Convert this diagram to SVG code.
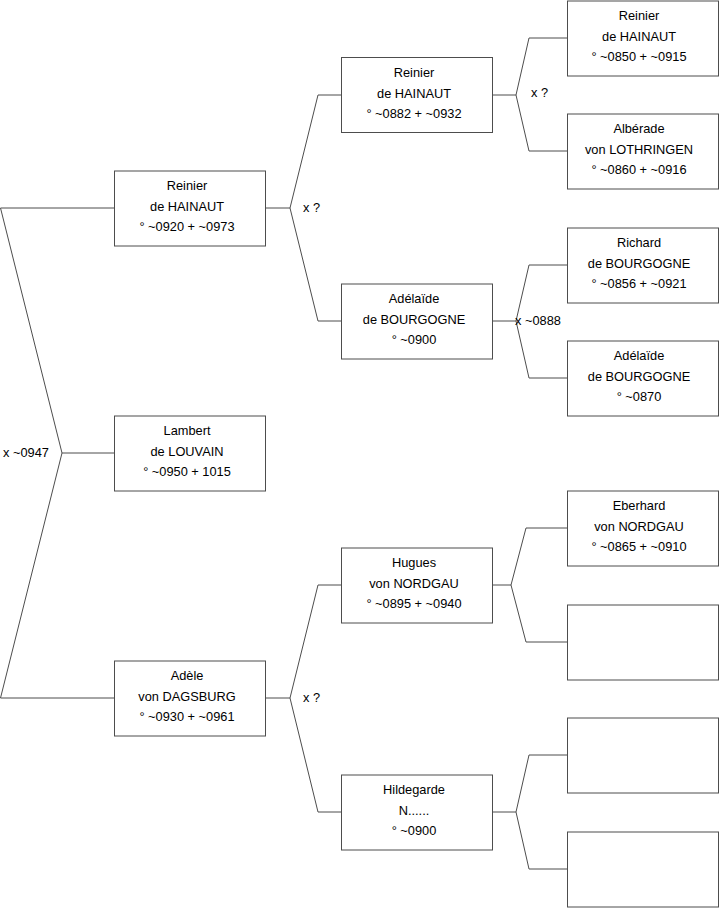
<svg xmlns="http://www.w3.org/2000/svg" width="719" height="908" viewBox="0 0 719 908">
<style>
.b{fill:#fff;stroke:#4d4d4d;stroke-width:1}
.c{fill:none;stroke:#4d4d4d;stroke-width:1}
text{font-family:"Liberation Sans",Arial,sans-serif;font-size:12.8px;fill:#000}
.m{text-anchor:middle}
</style>
<rect width="719" height="908" fill="#fff"/>
<g id="connectors">
<polyline class="c" points="114,208 0.5,208 62,453 0.5,698 114,698"/>
<line class="c" x1="62" y1="453" x2="114" y2="453"/>
<polyline class="c" points="341,95 318,95 290,208 318,321 341,321"/>
<line class="c" x1="265" y1="208" x2="290" y2="208"/>
<polyline class="c" points="341,585 318,585 290,698 318,812 341,812"/>
<line class="c" x1="265" y1="698" x2="290" y2="698"/>
<polyline class="c" points="567,38 529,38 516,95 529,151 567,151"/>
<line class="c" x1="492" y1="95" x2="516" y2="95"/>
<polyline class="c" points="567,265 529,265 516,321 529,378 567,378"/>
<line class="c" x1="492" y1="321" x2="516" y2="321"/>
<polyline class="c" points="567,528 526,528 511,585 526,642 567,642"/>
<line class="c" x1="492" y1="585" x2="511" y2="585"/>
<polyline class="c" points="567,755 529,755 516,812 529,869 567,869"/>
<line class="c" x1="492" y1="812" x2="516" y2="812"/>
<text x="3" y="457">x ~0947</text>
<text x="303" y="212">x ?</text>
<text x="303" y="702">x ?</text>
<text x="531" y="97">x ?</text>
<text x="515" y="325">x ~0888</text>
</g>
<g id="n1"><rect class="b" x="114.5" y="171" width="151" height="75"/><text class="m" x="187" y="190">Reinier</text><text class="m" x="187" y="211">de HAINAUT</text><text class="m" x="187" y="231">° ~0920 + ~0973</text></g>
<g id="n2"><rect class="b" x="114.5" y="416" width="151" height="75"/><text class="m" x="187" y="435">Lambert</text><text class="m" x="187" y="456">de LOUVAIN</text><text class="m" x="187" y="476">° ~0950 + 1015</text></g>
<g id="n3"><rect class="b" x="114.5" y="661" width="151" height="75"/><text class="m" x="187" y="680">Adèle</text><text class="m" x="187" y="701">von DAGSBURG</text><text class="m" x="187" y="721">° ~0930 + ~0961</text></g>
<g id="n4"><rect class="b" x="341.5" y="57.5" width="151" height="75"/><text class="m" x="414" y="77">Reinier</text><text class="m" x="414" y="98">de HAINAUT</text><text class="m" x="414" y="118">° ~0882 + ~0932</text></g>
<g id="n5"><rect class="b" x="341.5" y="284" width="151" height="75"/><text class="m" x="414" y="303">Adélaïde</text><text class="m" x="414" y="324">de BOURGOGNE</text><text class="m" x="414" y="344">° ~0900</text></g>
<g id="n6"><rect class="b" x="341.5" y="548" width="151" height="75"/><text class="m" x="414" y="567">Hugues</text><text class="m" x="414" y="588">von NORDGAU</text><text class="m" x="414" y="608">° ~0895 + ~0940</text></g>
<g id="n7"><rect class="b" x="341.5" y="775" width="151" height="75"/><text class="m" x="414" y="794">Hildegarde</text><text class="m" x="414" y="815">N......</text><text class="m" x="414" y="835">° ~0900</text></g>
<g id="n8"><rect class="b" x="567.5" y="1" width="151" height="75"/><text class="m" x="639" y="20">Reinier</text><text class="m" x="639" y="41">de HAINAUT</text><text class="m" x="639" y="61">° ~0850 + ~0915</text></g>
<g id="n9"><rect class="b" x="567.5" y="114" width="151" height="75"/><text class="m" x="639" y="133">Albérade</text><text class="m" x="639" y="154">von LOTHRINGEN</text><text class="m" x="639" y="174">° ~0860 + ~0916</text></g>
<g id="n10"><rect class="b" x="567.5" y="228" width="151" height="75"/><text class="m" x="639" y="247">Richard</text><text class="m" x="639" y="268">de BOURGOGNE</text><text class="m" x="639" y="288">° ~0856 + ~0921</text></g>
<g id="n11"><rect class="b" x="567.5" y="341" width="151" height="75"/><text class="m" x="639" y="360">Adélaïde</text><text class="m" x="639" y="381">de BOURGOGNE</text><text class="m" x="639" y="401">° ~0870</text></g>
<g id="n12"><rect class="b" x="567.5" y="491" width="151" height="75"/><text class="m" x="639" y="510">Eberhard</text><text class="m" x="639" y="531">von NORDGAU</text><text class="m" x="639" y="551">° ~0865 + ~0910</text></g>
<g id="n13"><rect class="b" x="567.5" y="605" width="151" height="75"/></g>
<g id="n14"><rect class="b" x="567.5" y="718" width="151" height="75"/></g>
<g id="n15"><rect class="b" x="567.5" y="832" width="151" height="75"/></g>
</svg>
